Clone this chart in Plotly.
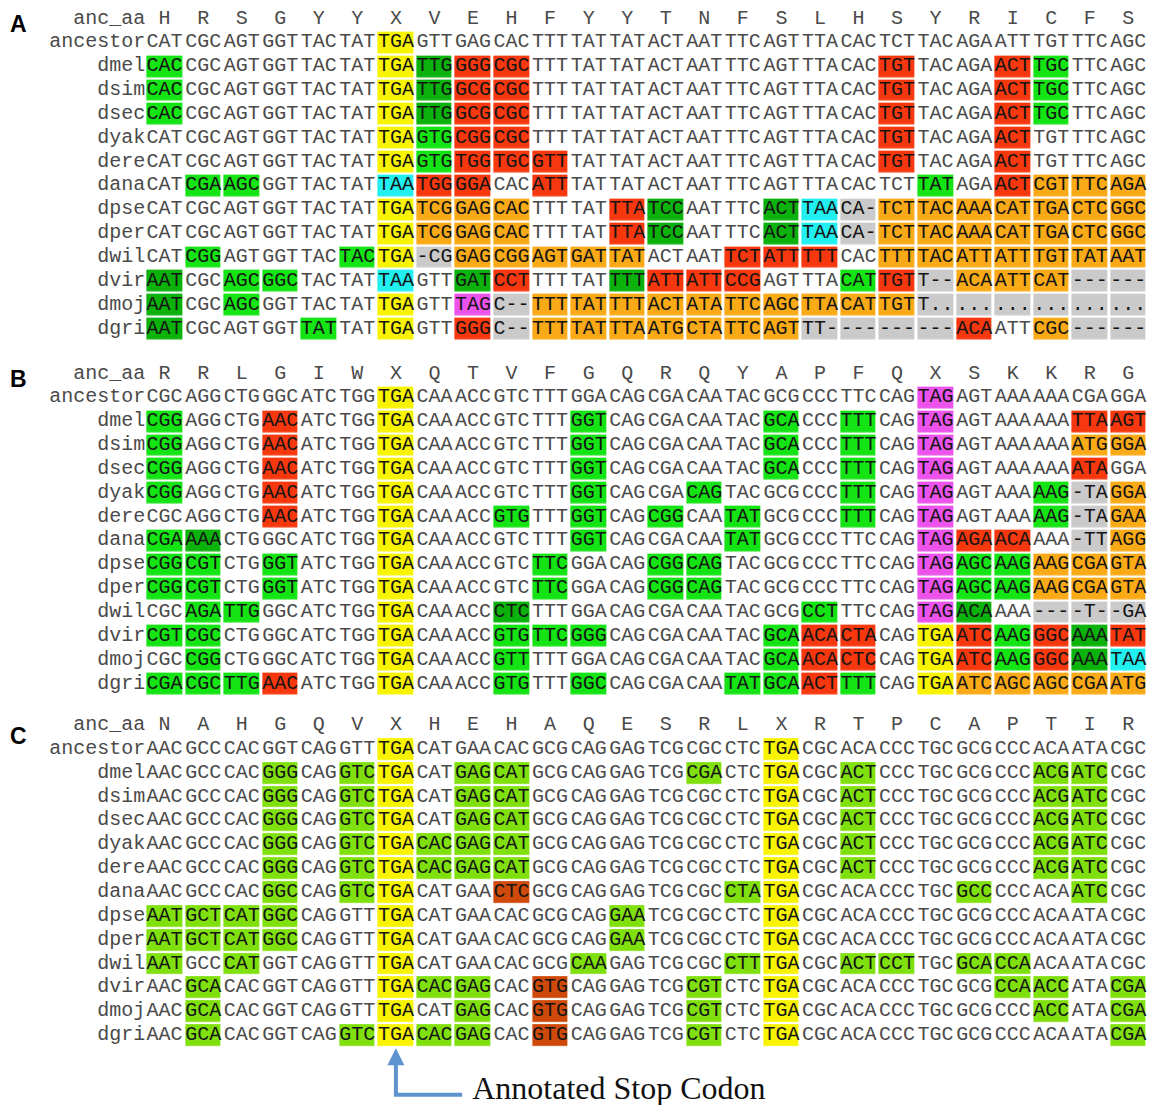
import plotly.graph_objects as go

# ---------------- data ----------------
ROWS = ["anc_aa", "ancestor", "dmel", "dsim", "dsec", "dyak", "dere",
        "dana", "dpse", "dper", "dwil", "dvir", "dmoj", "dgri"]

# Panel A
A_aa = "H R S G Y Y X V E H F Y Y T N F S L H S Y R I C F S".split()
A_codons = [
    "CAT CGC AGT GGT TAC TAT TGA GTT GAG CAC TTT TAT TAT ACT AAT TTC AGT TTA CAC TCT TAC AGA ATT TGT TTC AGC",
    "CAC CGC AGT GGT TAC TAT TGA TTG GGG CGC TTT TAT TAT ACT AAT TTC AGT TTA CAC TGT TAC AGA ACT TGC TTC AGC",
    "CAC CGC AGT GGT TAC TAT TGA TTG GCG CGC TTT TAT TAT ACT AAT TTC AGT TTA CAC TGT TAC AGA ACT TGC TTC AGC",
    "CAC CGC AGT GGT TAC TAT TGA TTG GCG CGC TTT TAT TAT ACT AAT TTC AGT TTA CAC TGT TAC AGA ACT TGC TTC AGC",
    "CAT CGC AGT GGT TAC TAT TGA GTG CGG CGC TTT TAT TAT ACT AAT TTC AGT TTA CAC TGT TAC AGA ACT TGT TTC AGC",
    "CAT CGC AGT GGT TAC TAT TGA GTG TGG TGC GTT TAT TAT ACT AAT TTC AGT TTA CAC TGT TAC AGA ACT TGT TTC AGC",
    "CAT CGA AGC GGT TAC TAT TAA TGG GGA CAC ATT TAT TAT ACT AAT TTC AGT TTA CAC TCT TAT AGA ACT CGT TTC AGA",
    "CAT CGC AGT GGT TAC TAT TGA TCG GAG CAC TTT TAT TTA TCC AAT TTC ACT TAA CA- TCT TAC AAA CAT TGA CTC GGC",
    "CAT CGC AGT GGT TAC TAT TGA TCG GAG CAC TTT TAT TTA TCC AAT TTC ACT TAA CA- TCT TAC AAA CAT TGA CTC GGC",
    "CAT CGG AGT GGT TAC TAC TGA -CG GAG CGG AGT GAT TAT ACT AAT TCT ATT TTT CAC TTT TAC ATT ATT TGT TAT AAT",
    "AAT CGC AGC GGC TAC TAT TAA GTT GAT CCT TTT TAT TTT ATT ATT CCG AGT TTA CAT TGT T-- ACA ATT CAT --- ---",
    "AAT CGC AGC GGT TAC TAT TGA GTT TAG C-- TTT TAT TTT ACT ATA TTC AGC TTA CAT TGT T.. ... ... ... ... ...",
    "AAT CGC AGT GGT TAT TAT TGA GTT GGG C-- TTT TAT TTA ATG CTA TTC AGT TT- --- --- --- ACA ATT CGC --- ---",
]
A_marks = [
    "......Y...................",
    "G.....YDRR.........R..RG..",
    "G.....YDRR.........R..RG..",
    "G.....YDRR.........R..RG..",
    "......YGRR.........R..R...",
    "......YGRRR........R..R...",
    ".GG...CRR.R.........G.ROOO",
    "......YOOO..RD..DCXOOOOOOO",
    "......YOOO..RD..DCXOOOOOOO",
    ".G...GYXOOOOO..RRR.OOOOOOO",
    "D.GG..C.DR..DRRR..GRXOOOXX",
    "D.G...Y.MXOOOOOOOOOOXXXXXX",
    "D...G.Y.RXOOOOOOOXXXXR.OXX",
]

# Panel B
B_aa = "R R L G I W X Q T V F G Q R Q Y A P F Q X S K K R G".split()
B_codons = [
    "CGC AGG CTG GGC ATC TGG TGA CAA ACC GTC TTT GGA CAG CGA CAA TAC GCG CCC TTC CAG TAG AGT AAA AAA CGA GGA",
    "CGG AGG CTG AAC ATC TGG TGA CAA ACC GTC TTT GGT CAG CGA CAA TAC GCA CCC TTT CAG TAG AGT AAA AAA TTA AGT",
    "CGG AGG CTG AAC ATC TGG TGA CAA ACC GTC TTT GGT CAG CGA CAA TAC GCA CCC TTT CAG TAG AGT AAA AAA ATG GGA",
    "CGG AGG CTG AAC ATC TGG TGA CAA ACC GTC TTT GGT CAG CGA CAA TAC GCA CCC TTT CAG TAG AGT AAA AAA ATA GGA",
    "CGG AGG CTG AAC ATC TGG TGA CAA ACC GTC TTT GGT CAG CGA CAG TAC GCG CCC TTT CAG TAG AGT AAA AAG -TA GGA",
    "CGC AGG CTG AAC ATC TGG TGA CAA ACC GTG TTT GGT CAG CGG CAA TAT GCG CCC TTT CAG TAG AGT AAA AAG -TA GAA",
    "CGA AAA CTG GGC ATC TGG TGA CAA ACC GTC TTT GGT CAG CGA CAA TAT GCG CCC TTC CAG TAG AGA ACA AAA -TT AGG",
    "CGG CGT CTG GGT ATC TGG TGA CAA ACC GTC TTC GGA CAG CGG CAG TAC GCG CCC TTC CAG TAG AGC AAG AAG CGA GTA",
    "CGG CGT CTG GGT ATC TGG TGA CAA ACC GTC TTC GGA CAG CGG CAG TAC GCG CCC TTC CAG TAG AGC AAG AAG CGA GTA",
    "CGC AGA TTG GGC ATC TGG TGA CAA ACC CTC TTT GGA CAG CGA CAA TAC GCG CCT TTC CAG TAG ACA AAA --- -T- -GA",
    "CGT CGC CTG GGC ATC TGG TGA CAA ACC GTG TTC GGG CAG CGA CAA TAC GCA ACA CTA CAG TGA ATC AAG GGC AAA TAT",
    "CGC CGG CTG GGC ATC TGG TGA CAA ACC GTT TTT GGA CAG CGA CAA TAC GCA ACA CTC CAG TGA ATC AAG GGC AAA TAA",
    "CGA CGC TTG AAC ATC TGG TGA CAA ACC GTG TTT GGC CAG CGA CAA TAT GCA ACT TTT CAG TGA ATC AGC AGC CGA ATG",
]
B_marks = [
    "......Y.............M.....",
    "G..R..Y....G....G.G.M...RR",
    "G..R..Y....G....G.G.M...OO",
    "G..R..Y....G....G.G.M...R.",
    "G..R..Y....G..G...G.M..GXO",
    "...R..Y..G.G.G.G..G.M..GXO",
    "GD....Y....G...G....MRR.XO",
    "GG.G..Y...G..GG.....MGGOOO",
    "GG.G..Y...G..GG.....MGGOOO",
    ".GG...Y..D.......G..MD.XXX",
    "GG....Y..GGG....GRR.YRGRDR",
    ".G....Y..G......GRR.YRGRDC",
    "GGGR..Y..G.G...GGRG.YOOOOO",
]

# Panel C
C_aa = "N A H G Q V X H E H A Q E S R L X R T P C A P T I R".split()
C_codons = [
    "AAC GCC CAC GGT CAG GTT TGA CAT GAA CAC GCG CAG GAG TCG CGC CTC TGA CGC ACA CCC TGC GCG CCC ACA ATA CGC",
    "AAC GCC CAC GGG CAG GTC TGA CAT GAG CAT GCG CAG GAG TCG CGA CTC TGA CGC ACT CCC TGC GCG CCC ACG ATC CGC",
    "AAC GCC CAC GGG CAG GTC TGA CAT GAG CAT GCG CAG GAG TCG CGC CTC TGA CGC ACT CCC TGC GCG CCC ACG ATC CGC",
    "AAC GCC CAC GGG CAG GTC TGA CAT GAG CAT GCG CAG GAG TCG CGC CTC TGA CGC ACT CCC TGC GCG CCC ACG ATC CGC",
    "AAC GCC CAC GGG CAG GTC TGA CAC GAG CAT GCG CAG GAG TCG CGC CTC TGA CGC ACT CCC TGC GCG CCC ACG ATC CGC",
    "AAC GCC CAC GGG CAG GTC TGA CAC GAG CAT GCG CAG GAG TCG CGC CTC TGA CGC ACT CCC TGC GCG CCC ACG ATC CGC",
    "AAC GCC CAC GGC CAG GTC TGA CAT GAA CTC GCG CAG GAG TCG CGC CTA TGA CGC ACA CCC TGC GCC CCC ACA ATC CGC",
    "AAT GCT CAT GGC CAG GTT TGA CAT GAA CAC GCG CAG GAA TCG CGC CTC TGA CGC ACA CCC TGC GCG CCC ACA ATA CGC",
    "AAT GCT CAT GGC CAG GTT TGA CAT GAA CAC GCG CAG GAA TCG CGC CTC TGA CGC ACA CCC TGC GCG CCC ACA ATA CGC",
    "AAT GCC CAT GGT CAG GTT TGA CAT GAA CAC GCG CAA GAG TCG CGC CTT TGA CGC ACT CCT TGC GCA CCA ACA ATA CGC",
    "AAC GCA CAC GGT CAG GTT TGA CAC GAG CAC GTG CAG GAG TCG CGT CTC TGA CGC ACA CCC TGC GCG CCA ACC ATA CGA",
    "AAC GCA CAC GGT CAG GTT TGA CAT GAG CAC GTG CAG GAG TCG CGT CTC TGA CGC ACA CCC TGC GCG CCC ACC ATA CGA",
    "AAC GCA CAC GGT CAG GTC TGA CAC GAG CAC GTG CAG GAG TCG CGT CTC TGA CGC ACA CCC TGC GCG CCC ACA ATA CGA",
]
C_marks = [
    "......Y.........Y.........",
    "...L.LY.LL....L.Y.L....LL.",
    "...L.LY.LL......Y.L....LL.",
    "...L.LY.LL......Y.L....LL.",
    "...L.LYLLL......Y.L....LL.",
    "...L.LYLLL......Y.L....LL.",
    "...L.LY..B.....LY....L..L.",
    "LLLL..Y.....L...Y.........",
    "LLLL..Y.....L...Y.........",
    "L.L...Y....L...LY.LL.LL...",
    ".L....YLL.B...L.Y.....LL.L",
    ".L....Y.L.B...L.Y......L.L",
    ".L...LYLL.B...L.Y........L",
]

PANEL_LETTERS = ["A", "B", "C"]
STOP_LABEL = "Annotated Stop Codon"

# ---------------- styling ----------------
MARK_COLORS = {
    "Y": "#F8F400",  # stop codon yellow
    "G": "#14E314",  # green
    "D": "#0CB20C",  # dark green
    "R": "#F7380F",  # red
    "O": "#F9AA16",  # orange
    "C": "#22F0F0",  # cyan
    "M": "#EC52EC",  # magenta
    "X": "#CACACA",  # gray (gaps)
    "L": "#80E00E",  # lime (panel C)
    "B": "#CF4A0A",  # rust (panel C)
}
CODES = list(MARK_COLORS.keys())

W, H = 1151, 1105
X0, XPITCH = 164.6, 38.55          # pixel of column 0, column pitch
YPITCH = 23.85                      # row pitch
PANEL_TOPS = [18.5, 373.5, 725.0]   # pixel of anc_aa row per panel
LETTER_DY = [0.22, 0.25, 0.46]      # panel letter offset (rows)
MONO = "Liberation Mono, Courier New, monospace"
FS = 20
TXT_PLAIN = "#4a4a4a"
TXT_ON = "#141414"

n = len(CODES)
colorscale = []
for i, c in enumerate(CODES):
    colorscale.append([i / n, MARK_COLORS[c]])
    colorscale.append([(i + 1) / n, MARK_COLORS[c]])

fig = go.Figure()

panels = [(A_aa, A_codons, A_marks), (B_aa, B_codons, B_marks), (C_aa, C_codons, C_marks)]
yaxes_names = ["y", "y2", "y3"]

for p, (aa, codons, marks) in enumerate(panels):
    yref = yaxes_names[p]
    ncol = len(aa)
    cols = list(range(ncol))
    rows = list(range(len(ROWS)))
    # cell colours
    z = [[None] * ncol]
    for m in marks:
        z.append([CODES.index(ch) if ch in MARK_COLORS else None for ch in m])
    fig.add_trace(go.Heatmap(
        x=cols, y=rows, z=z, zmin=0, zmax=n, colorscale=colorscale,
        showscale=False, xgap=3, ygap=2.2, hoverinfo="skip", hoverongaps=False,
        xaxis="x", yaxis=yref))
    # texts
    xs, ys, ts, tc = [], [], [], []
    for c, a in enumerate(aa):
        xs.append(c); ys.append(0); ts.append(a); tc.append(TXT_PLAIN)
    for r, (row, m) in enumerate(zip(codons, marks), start=1):
        for c, cod in enumerate(row.split()):
            xs.append(c); ys.append(r); ts.append(cod)
            tc.append(TXT_ON if m[c] in MARK_COLORS else TXT_PLAIN)
    fig.add_trace(go.Scatter(
        x=xs, y=ys, text=ts, mode="text", textposition="middle center",
        textfont=dict(family=MONO, size=FS, color=tc), cliponaxis=False,
        hoverinfo="skip", showlegend=False, xaxis="x", yaxis=yref))
    # row labels
    fig.add_trace(go.Scatter(
        x=[-0.5] * len(ROWS), y=rows, text=ROWS, mode="text",
        textposition="middle left", cliponaxis=False,
        textfont=dict(family=MONO, size=FS, color=TXT_PLAIN),
        hoverinfo="skip", showlegend=False, xaxis="x", yaxis=yref))
    # panel letter
    fig.add_annotation(x=-3.8, y=LETTER_DY[p], xref="x", yref=yref,
                       text="<b>%s</b>" % PANEL_LETTERS[p],
                       showarrow=False, xanchor="center", yanchor="middle",
                       font=dict(family="Liberation Sans, Arial", size=23, color="#000"))

# arrow to the annotated stop codon (column of 'X' in panel C)
stop_col = C_aa.index("X")
last_row = len(ROWS) - 1
tip_row = last_row + 0.55
corner_row = last_row + 2.5
arrow_col = "#5E93CF"
fig.add_annotation(x=stop_col, y=tip_row, ax=stop_col, ay=corner_row + 0.12,
                   xref="x", yref="y3", axref="x", ayref="y3",
                   showarrow=True, arrowhead=2, arrowsize=0.85, arrowwidth=4,
                   arrowcolor=arrow_col, text="")
fig.add_trace(go.Scatter(
    x=[stop_col - 0.05, stop_col + 1.72], y=[corner_row, corner_row],
    mode="lines", line=dict(color=arrow_col, width=4), cliponaxis=False,
    hoverinfo="skip", showlegend=False, xaxis="x", yaxis="y3"))
fig.add_trace(go.Scatter(
    x=[stop_col + 1.98], y=[corner_row - 0.15], text=[STOP_LABEL], mode="text",
    textposition="middle right", cliponaxis=False,
    textfont=dict(family="Liberation Serif, Times New Roman, serif", size=32, color="#111"),
    hoverinfo="skip", showlegend=False, xaxis="x", yaxis="y3"))

# axes: pixel-aligned
xr = [-X0 / XPITCH, (W - X0) / XPITCH]
layout_axes = {}
for p, name in enumerate(["yaxis", "yaxis2", "yaxis3"]):
    top = PANEL_TOPS[p]
    ax = dict(range=[(H - top) / YPITCH, -top / YPITCH], domain=[0, 1],
              visible=False, fixedrange=True)
    if p > 0:
        ax["overlaying"] = "y"
    layout_axes[name] = ax

fig.update_layout(
    width=W, height=H, margin=dict(l=0, r=0, t=0, b=0),
    paper_bgcolor="white", plot_bgcolor="white", showlegend=False,
    xaxis=dict(range=xr, domain=[0, 1], visible=False, fixedrange=True),
    **layout_axes,
)

# remove the default 8px page margin so the figure fills the window exactly
fig.write_html("out.html",
               config={"displayModeBar": False, "staticPlot": True},
               post_script="document.body.style.margin='0';document.body.style.overflow='hidden';")
